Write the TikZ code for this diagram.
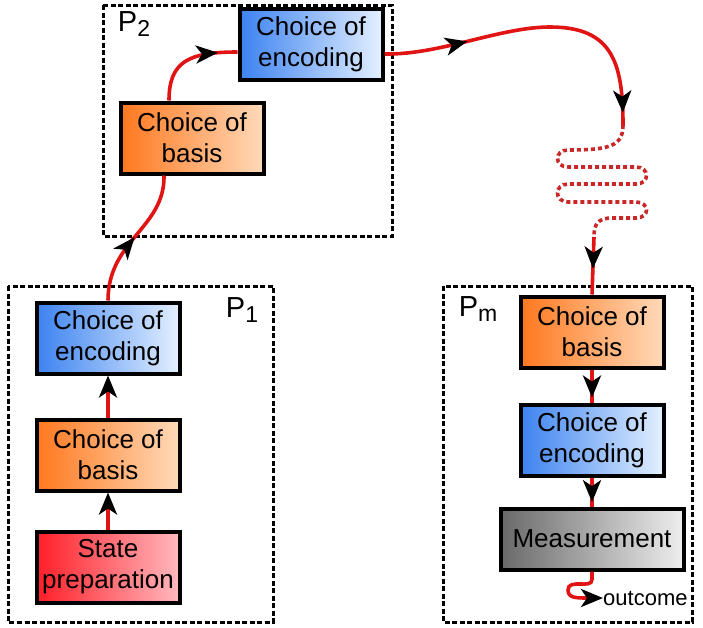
\documentclass[tikz,border=0pt]{standalone}
\usepackage{fontspec}
\setmainfont{Liberation Sans}
\usetikzlibrary{arrows.meta,positioning,decorations.markings}

\definecolor{encblue}{RGB}{60,130,240}
\definecolor{enclight}{RGB}{228,240,255}
\definecolor{basorange}{RGB}{255,120,30}
\definecolor{baslight}{RGB}{255,218,185}
\definecolor{statered}{RGB}{255,30,40}
\definecolor{statelight}{RGB}{255,185,190}
\definecolor{measdark}{RGB}{105,105,105}
\definecolor{measlight}{RGB}{238,238,238}
\definecolor{flowred}{RGB}{225,20,20}
\definecolor{dotred}{RGB}{200,40,40}

\newcommand\pname[1]{P\raisebox{-5pt}{\fontsize{23}{23}\selectfont #1}}

\begin{document}
\begin{tikzpicture}[x=1pt,y=-1pt,
  box/.style={draw,line width=4pt,align=center,minimum width=143pt,minimum height=71pt,inner sep=2pt,font=\fontsize{26}{31}\selectfont},
  enc/.style={box,left color=encblue,right color=enclight},
  basis/.style={box,left color=basorange,right color=baslight},
  prep/.style={box,left color=statered,right color=statelight},
  meas/.style={box,minimum width=183pt,minimum height=61pt,left color=measdark,right color=measlight},
  frame/.style={draw,line width=3pt,dash pattern=on 5pt off 2.5pt},
  plabel/.style={font=\fontsize{29}{29}\selectfont},
  flow/.style={draw=flowred,line width=3.6pt},
  tip/.style={-{Stealth[black,length=22pt,width=18pt,inset=6pt]}},
  midtip/.style={postaction={decorate},decoration={markings,
    mark=at position #1 with {\arrow{Stealth[black,length=22pt,width=18pt,inset=6pt]}}}}]
\useasboundingbox (0,0) rectangle (703,627);

% dashed frames
\draw[frame] (103,5) rectangle (392,236);
\draw[frame] (8,286) rectangle (273,622);
\draw[frame] (443,286) rectangle (692,622);
\node[plabel] (p2) at (134,24) {\pname{2}};
\node[plabel] (p1) at (242,310) {\pname{1}};
\node[plabel] (pm) at (478,309) {\pname{m}};

% P1
\node[prep] (state) at (108,567) {State\\preparation};
\node[basis,above=37pt of state] (bas1) {Choice of\\basis};
\node[enc,above=42pt of bas1] (enc1) {Choice of\\encoding};

% P2
\node[basis] (bas2) at (192,138) {Choice of\\basis};
\node[enc] (enc2) at (311,44) {Choice of\\encoding};

% Pm
\node[basis] (basm) at (592,332) {Choice of\\basis};
\node[enc,below=33pt of basm] (encm) {Choice of\\encoding};
\node[meas,below=29pt of encm] (meas) {Measurement};
\node[anchor=west,inner sep=0pt,font=\fontsize{22}{22}\selectfont] (out) at (603,598) {outcome};

\coordinate (wigtop) at (623,125);
\coordinate (wigend) at (594,237);

\draw[flow,tip] (state) -- (bas1);
\draw[flow,tip] (bas1) -- (enc1);
\draw[flow,midtip=0.5] (enc1.north) .. controls (108,240) and (165,228) .. ([xshift=-28pt]bas2.south);
\draw[flow,midtip=0.8] ([xshift=-23pt]bas2.north) .. controls (169,62) and (188,52) .. ([yshift=-8pt]enc2.west);
\draw[flow,postaction={decorate},decoration={markings,
    mark=at position 0.27 with {\arrow{Stealth[black,length=22pt,width=18pt,inset=6pt]}},
    mark=at position 0.96 with {\arrow{Stealth[black,length=22pt,width=18pt,inset=6pt]}}}]
  ([yshift=-10pt]enc2.east) .. controls (440,55) and (500,27) .. (550,27)
  .. controls (612,27) and (623,62) .. (wigtop);
\draw[draw=dotred,line width=3.6pt,dash pattern=on 4pt off 3pt]
  (wigtop) .. controls (623,146) and (610,150) .. (568,150)
  .. controls (554,150) and (554,167) .. (568,167) -- (636,167)
  .. controls (650,167) and (650,184) .. (636,184) -- (568,184)
  .. controls (554,184) and (554,202) .. (568,202) -- (636,202)
  .. controls (650,202) and (650,218) .. (636,218) -- (612,218)
  .. controls (597,218) and (594,225) .. (wigend);
\draw[flow,midtip=0.55] (wigend) -- (basm.north);
\draw[flow,midtip=0.85] (basm) -- (encm);
\draw[flow,midtip=0.85] (encm) -- (meas);
\draw[flow,tip] (meas.south) -- ++(0,8) .. controls +(0,10) and (568,578) .. (568,590)
  .. controls (568,598) and (576,598) .. (out.west);
\end{tikzpicture}
\end{document}
